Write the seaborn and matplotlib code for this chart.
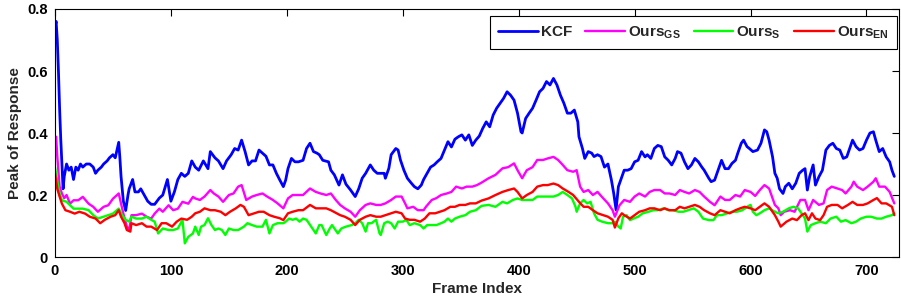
import matplotlib
matplotlib.use('Agg')
import matplotlib.pyplot as plt
import pandas as pd
import seaborn as sns

# values (frame, peak of response)
kcf_frames = [0, 1, 2, 3, 4, 5, 6, 7, 8, 10, 12, 14, 16, 18, 20, 22, 24, 27, 30, 33, 35, 37, 40, 42, 45, 47, 50, 52, 55, 56, 57, 59, 61, 63, 64, 67, 69, 72, 74, 77, 80, 83, 86, 90, 93, 97, 100, 103, 106, 109, 112, 115, 118, 121, 124, 128, 132, 134, 138, 141, 145, 148, 152, 155, 158, 161, 164, 167, 170, 173, 176, 179, 182, 185, 188, 191, 194, 197, 199, 201, 204, 207, 210, 214, 217, 220, 223, 226, 228, 231, 236, 238, 241, 245, 248, 251, 255, 259, 262, 265, 268, 272, 275, 278, 281, 284, 285, 288, 290, 294, 296, 298, 301, 304, 307, 310, 313, 316, 318, 321, 324, 327, 330, 333, 336, 339, 342, 345, 348, 351, 354, 357, 360, 363, 366, 369, 372, 375, 378, 381, 384, 387, 390, 393, 396, 399, 402, 403, 406, 409, 412, 415, 418, 421, 424, 427, 430, 433, 436, 439, 442, 445, 448, 451, 452, 455, 457, 460, 463, 465, 468, 471, 474, 477, 480, 482, 484, 486, 489, 491, 494, 497, 500, 503, 506, 509, 511, 514, 517, 520, 523, 526, 529, 532, 535, 537, 540, 543, 546, 549, 552, 555, 558, 560, 564, 566, 569, 572, 575, 578, 581, 584, 587, 589, 592, 594, 597, 599, 602, 606, 609, 612, 614, 616, 619, 621, 623, 625, 628, 630, 633, 636, 639, 642, 645, 647, 649, 651, 654, 656, 659, 662, 665, 668, 671, 674, 677, 680, 683, 686, 688, 691, 694, 697, 700, 703, 706, 708, 711, 714, 717, 720, 722, 724]
kcf_vals = [0.74, 0.76, 0.70, 0.60, 0.48, 0.38, 0.30, 0.22, 0.26, 0.30, 0.28, 0.29, 0.25, 0.29, 0.28, 0.30, 0.29, 0.30, 0.30, 0.29, 0.27, 0.28, 0.29, 0.30, 0.31, 0.32, 0.33, 0.32, 0.37, 0.32, 0.26, 0.18, 0.15, 0.20, 0.22, 0.25, 0.21, 0.21, 0.22, 0.20, 0.18, 0.17, 0.17, 0.19, 0.20, 0.25, 0.18, 0.21, 0.25, 0.27, 0.26, 0.27, 0.31, 0.29, 0.28, 0.31, 0.285, 0.34, 0.32, 0.31, 0.285, 0.31, 0.33, 0.35, 0.345, 0.377, 0.34, 0.297, 0.31, 0.31, 0.345, 0.335, 0.325, 0.297, 0.297, 0.27, 0.248, 0.227, 0.248, 0.285, 0.318, 0.307, 0.307, 0.312, 0.35, 0.367, 0.34, 0.335, 0.33, 0.312, 0.307, 0.28, 0.265, 0.232, 0.265, 0.235, 0.216, 0.195, 0.22, 0.254, 0.27, 0.297, 0.28, 0.27, 0.27, 0.27, 0.254, 0.286, 0.33, 0.35, 0.345, 0.313, 0.28, 0.254, 0.24, 0.227, 0.22, 0.232, 0.25, 0.27, 0.29, 0.297, 0.308, 0.318, 0.345, 0.372, 0.355, 0.38, 0.388, 0.394, 0.377, 0.394, 0.36, 0.377, 0.39, 0.415, 0.436, 0.42, 0.458, 0.48, 0.496, 0.512, 0.533, 0.522, 0.506, 0.464, 0.404, 0.40, 0.447, 0.464, 0.48, 0.506, 0.533, 0.544, 0.566, 0.555, 0.576, 0.555, 0.522, 0.496, 0.464, 0.464, 0.474, 0.436, 0.388, 0.35, 0.318, 0.34, 0.335, 0.324, 0.33, 0.324, 0.29, 0.30, 0.248, 0.205, 0.152, 0.227, 0.259, 0.28, 0.28, 0.285, 0.307, 0.312, 0.34, 0.323, 0.33, 0.318, 0.35, 0.36, 0.356, 0.323, 0.312, 0.297, 0.318, 0.34, 0.335, 0.307, 0.285, 0.297, 0.318, 0.307, 0.29, 0.28, 0.254, 0.243, 0.248, 0.28, 0.312, 0.285, 0.285, 0.302, 0.312, 0.335, 0.367, 0.377, 0.356, 0.35, 0.34, 0.345, 0.367, 0.41, 0.404, 0.377, 0.323, 0.27, 0.254, 0.22, 0.205, 0.227, 0.238, 0.22, 0.238, 0.27, 0.28, 0.285, 0.216, 0.259, 0.297, 0.232, 0.259, 0.28, 0.345, 0.36, 0.367, 0.35, 0.345, 0.318, 0.323, 0.356, 0.377, 0.356, 0.345, 0.35, 0.377, 0.40, 0.404, 0.377, 0.34, 0.35, 0.323, 0.307, 0.28, 0.26]

gs_frames = [0, 1, 2, 4, 6, 8, 10, 13, 16, 20, 24, 29, 33, 37, 42, 46, 50, 55, 57, 59, 62, 64, 66, 70, 75, 79, 83, 86, 90, 93, 98, 102, 106, 110, 115, 119, 121, 125, 129, 134, 137, 141, 145, 150, 154, 158, 161, 165, 170, 174, 179, 183, 188, 192, 197, 201, 205, 210, 214, 220, 225, 229, 234, 238, 242, 246, 250, 255, 259, 263, 268, 272, 277, 281, 285, 290, 294, 299, 302, 304, 309, 313, 318, 320, 325, 329, 333, 338, 342, 346, 351, 355, 360, 364, 368, 374, 380, 386, 391, 396, 399, 403, 407, 412, 416, 421, 425, 430, 434, 438, 442, 447, 450, 453, 456, 460, 464, 468, 473, 477, 481, 483, 487, 491, 496, 500, 504, 509, 513, 517, 522, 526, 530, 535, 539, 543, 547, 552, 556, 560, 565, 569, 574, 578, 582, 587, 591, 595, 600, 604, 608, 612, 616, 621, 624, 626, 629, 634, 638, 643, 647, 650, 654, 659, 663, 666, 670, 675, 679, 682, 687, 689, 692, 697, 701, 706, 708, 711, 716, 720, 724]
gs_vals = [0.38, 0.388, 0.324, 0.227, 0.205, 0.19, 0.20, 0.172, 0.183, 0.183, 0.194, 0.172, 0.162, 0.146, 0.162, 0.167, 0.188, 0.205, 0.172, 0.14, 0.098, 0.087, 0.135, 0.135, 0.14, 0.13, 0.124, 0.14, 0.156, 0.146, 0.167, 0.151, 0.156, 0.178, 0.172, 0.194, 0.189, 0.184, 0.195, 0.216, 0.205, 0.195, 0.178, 0.20, 0.205, 0.227, 0.232, 0.184, 0.195, 0.20, 0.205, 0.195, 0.184, 0.173, 0.157, 0.189, 0.20, 0.20, 0.20, 0.221, 0.21, 0.205, 0.20, 0.205, 0.185, 0.168, 0.157, 0.146, 0.13, 0.151, 0.168, 0.173, 0.168, 0.168, 0.173, 0.184, 0.195, 0.195, 0.173, 0.157, 0.162, 0.151, 0.151, 0.162, 0.184, 0.19, 0.20, 0.205, 0.21, 0.227, 0.221, 0.227, 0.227, 0.232, 0.24, 0.254, 0.265, 0.286, 0.29, 0.302, 0.28, 0.254, 0.28, 0.29, 0.313, 0.313, 0.318, 0.323, 0.313, 0.297, 0.28, 0.275, 0.28, 0.227, 0.21, 0.216, 0.20, 0.21, 0.189, 0.173, 0.151, 0.13, 0.167, 0.184, 0.178, 0.195, 0.205, 0.195, 0.21, 0.216, 0.216, 0.205, 0.205, 0.20, 0.216, 0.21, 0.205, 0.216, 0.21, 0.195, 0.178, 0.167, 0.195, 0.184, 0.184, 0.20, 0.195, 0.216, 0.21, 0.197, 0.216, 0.232, 0.221, 0.168, 0.157, 0.135, 0.146, 0.151, 0.146, 0.184, 0.184, 0.151, 0.184, 0.168, 0.173, 0.216, 0.227, 0.221, 0.216, 0.205, 0.227, 0.243, 0.227, 0.216, 0.227, 0.243, 0.254, 0.227, 0.227, 0.21, 0.173]

s_frames = [0, 2, 4, 6, 10, 13, 16, 20, 24, 29, 33, 37, 42, 46, 50, 55, 58, 61, 64, 66, 70, 75, 79, 83, 86, 89, 93, 98, 102, 106, 110, 112, 115, 119, 121, 124, 126, 129, 132, 135, 138, 141, 144, 147, 150, 154, 158, 163, 166, 170, 174, 179, 182, 185, 188, 192, 197, 199, 202, 205, 208, 211, 214, 217, 221, 225, 228, 230, 234, 237, 239, 244, 247, 251, 256, 259, 262, 265, 268, 270, 273, 277, 280, 281, 284, 287, 290, 293, 296, 300, 303, 306, 310, 315, 318, 321, 325, 329, 333, 336, 339, 342, 345, 349, 354, 358, 363, 368, 374, 380, 386, 390, 395, 399, 403, 407, 412, 416, 421, 425, 430, 434, 438, 442, 446, 449, 450, 453, 456, 459, 462, 465, 468, 472, 477, 481, 483, 486, 488, 490, 493, 496, 499, 503, 507, 512, 516, 520, 525, 529, 533, 538, 542, 546, 551, 555, 559, 564, 568, 571, 575, 580, 584, 588, 593, 597, 600, 602, 605, 608, 612, 616, 621, 624, 628, 633, 637, 641, 644, 647, 649, 652, 656, 660, 665, 669, 674, 678, 682, 687, 691, 695, 700, 704, 709, 713, 717, 722, 724]
s_vals = [0.29, 0.245, 0.205, 0.183, 0.178, 0.167, 0.156, 0.156, 0.156, 0.151, 0.135, 0.124, 0.13, 0.135, 0.14, 0.156, 0.135, 0.12, 0.114, 0.13, 0.124, 0.124, 0.13, 0.12, 0.114, 0.076, 0.092, 0.087, 0.087, 0.092, 0.12, 0.044, 0.065, 0.076, 0.098, 0.071, 0.098, 0.103, 0.125, 0.103, 0.087, 0.092, 0.087, 0.071, 0.092, 0.087, 0.087, 0.098, 0.109, 0.103, 0.098, 0.098, 0.12, 0.076, 0.103, 0.109, 0.109, 0.114, 0.124, 0.12, 0.124, 0.114, 0.124, 0.12, 0.098, 0.076, 0.103, 0.103, 0.071, 0.092, 0.103, 0.076, 0.092, 0.098, 0.103, 0.109, 0.12, 0.109, 0.082, 0.109, 0.109, 0.12, 0.076, 0.071, 0.109, 0.114, 0.109, 0.092, 0.114, 0.114, 0.12, 0.103, 0.109, 0.103, 0.092, 0.103, 0.103, 0.103, 0.109, 0.114, 0.124, 0.114, 0.124, 0.13, 0.135, 0.146, 0.151, 0.165, 0.168, 0.162, 0.178, 0.173, 0.184, 0.189, 0.184, 0.184, 0.184, 0.195, 0.195, 0.195, 0.195, 0.20, 0.21, 0.20, 0.189, 0.162, 0.146, 0.173, 0.184, 0.173, 0.178, 0.141, 0.12, 0.114, 0.109, 0.109, 0.114, 0.098, 0.092, 0.13, 0.135, 0.119, 0.124, 0.13, 0.141, 0.146, 0.151, 0.151, 0.157, 0.151, 0.151, 0.146, 0.146, 0.151, 0.157, 0.146, 0.124, 0.119, 0.119, 0.135, 0.135, 0.141, 0.146, 0.146, 0.151, 0.162, 0.168, 0.146, 0.135, 0.141, 0.151, 0.157, 0.146, 0.141, 0.146, 0.157, 0.162, 0.157, 0.141, 0.124, 0.082, 0.103, 0.109, 0.114, 0.109, 0.124, 0.13, 0.114, 0.119, 0.109, 0.114, 0.124, 0.13, 0.13, 0.124, 0.124, 0.13, 0.135, 0.141]

en_frames = [0, 2, 4, 6, 9, 13, 17, 21, 26, 30, 35, 39, 43, 48, 52, 55, 57, 60, 62, 65, 66, 70, 75, 79, 83, 88, 92, 96, 101, 105, 109, 114, 118, 121, 125, 129, 134, 138, 143, 147, 151, 156, 160, 163, 167, 172, 176, 180, 185, 189, 194, 197, 201, 205, 210, 214, 220, 225, 229, 234, 238, 242, 246, 250, 255, 259, 263, 268, 272, 277, 281, 285, 290, 294, 299, 302, 306, 310, 315, 319, 323, 328, 332, 336, 341, 345, 349, 354, 358, 363, 368, 374, 380, 386, 391, 396, 399, 403, 407, 412, 416, 421, 425, 430, 434, 438, 443, 447, 452, 456, 460, 464, 468, 473, 477, 481, 483, 486, 489, 491, 496, 500, 504, 509, 513, 517, 522, 526, 530, 535, 539, 543, 547, 552, 556, 560, 565, 569, 574, 578, 582, 587, 591, 595, 600, 604, 608, 612, 616, 621, 624, 626, 631, 636, 640, 644, 647, 650, 653, 656, 660, 663, 666, 670, 675, 679, 684, 688, 692, 697, 701, 706, 709, 713, 717, 722, 724]
en_vals = [0.27, 0.22, 0.195, 0.172, 0.151, 0.146, 0.14, 0.146, 0.14, 0.13, 0.124, 0.109, 0.12, 0.13, 0.135, 0.151, 0.13, 0.109, 0.087, 0.082, 0.109, 0.103, 0.109, 0.098, 0.098, 0.087, 0.109, 0.109, 0.098, 0.114, 0.124, 0.12, 0.13, 0.141, 0.146, 0.157, 0.151, 0.151, 0.146, 0.135, 0.146, 0.157, 0.168, 0.162, 0.135, 0.141, 0.146, 0.146, 0.135, 0.13, 0.125, 0.119, 0.141, 0.146, 0.151, 0.151, 0.168, 0.157, 0.157, 0.157, 0.151, 0.143, 0.135, 0.13, 0.12, 0.103, 0.12, 0.13, 0.135, 0.13, 0.13, 0.135, 0.141, 0.146, 0.141, 0.124, 0.12, 0.12, 0.114, 0.124, 0.141, 0.141, 0.146, 0.151, 0.162, 0.162, 0.168, 0.168, 0.173, 0.173, 0.182, 0.189, 0.20, 0.21, 0.216, 0.221, 0.21, 0.189, 0.20, 0.21, 0.227, 0.232, 0.232, 0.237, 0.232, 0.221, 0.21, 0.20, 0.178, 0.162, 0.162, 0.151, 0.141, 0.135, 0.13, 0.12, 0.095, 0.125, 0.141, 0.135, 0.124, 0.135, 0.146, 0.151, 0.157, 0.157, 0.151, 0.157, 0.151, 0.151, 0.162, 0.157, 0.162, 0.168, 0.162, 0.151, 0.141, 0.135, 0.151, 0.146, 0.141, 0.151, 0.157, 0.162, 0.157, 0.151, 0.162, 0.173, 0.162, 0.135, 0.114, 0.098, 0.114, 0.124, 0.119, 0.135, 0.141, 0.119, 0.141, 0.124, 0.119, 0.135, 0.162, 0.168, 0.168, 0.157, 0.168, 0.178, 0.168, 0.168, 0.173, 0.184, 0.19, 0.173, 0.173, 0.162, 0.135]

labels = ['KCF', r'Ours$_\mathrm{GS}$', r'Ours$_\mathrm{S}$', r'Ours$_\mathrm{EN}$']
colors = ['#0000ff', '#ff00ff', '#00ff00', '#ff0000']
x_ticks = [0, 100, 200, 300, 400, 500, 600, 700]
y_ticks = [0, 0.2, 0.4, 0.6, 0.8]
y_tick_labels = ['0', '0.2', '0.4', '0.6', '0.8']

sns.set_style('white')
plt.rcParams['font.family'] = ['Liberation Sans', 'DejaVu Sans']
plt.rcParams['font.weight'] = 'bold'
plt.rcParams['mathtext.fontset'] = 'custom'
plt.rcParams['mathtext.rm'] = 'Liberation Sans:bold'
plt.rcParams['mathtext.it'] = 'Liberation Sans:bold'

frames = [kcf_frames, gs_frames, s_frames, en_frames]
values = [kcf_vals, gs_vals, s_vals, en_vals]
widths = [2.0, 1.7, 1.7, 1.7]

fig = plt.figure(figsize=(9.01, 3.0), dpi=100)
ax = fig.add_axes([0.061, 0.1433, 0.9367, 0.8267])
for f, v, lab, c, w in zip(frames, values, labels, colors, widths):
    d = pd.DataFrame({'frame': f, 'peak': v})
    sns.lineplot(data=d, x='frame', y='peak', color=c, linewidth=w,
                 estimator=None, sort=False, label=lab, ax=ax)

ax.set_xlim(0, 728)
ax.set_ylim(0, 0.8)
ax.set_xticks(x_ticks)
ax.set_yticks(y_ticks)
ax.set_yticklabels(y_tick_labels)
ax.tick_params(direction='in', length=5, width=0.8, top=True, right=True,
               labelsize=10.5, colors='black', pad=5)
for sp in ax.spines.values():
    sp.set_color('black')
    sp.set_linewidth(0.8)
ax.set_xlabel('Frame Index', fontsize=11, fontweight='bold', labelpad=3)
ax.set_ylabel('Peak of Response', fontsize=11, fontweight='bold', labelpad=4)

leg = ax.legend(loc='upper right', bbox_to_anchor=(0.9976, 0.972), ncol=4,
                prop={'size': 11, 'weight': 'bold'}, frameon=True,
                fancybox=False, edgecolor='black', framealpha=1,
                borderaxespad=0, handlelength=2.6, handletextpad=0.2,
                columnspacing=0.85, borderpad=0.55)
leg.get_frame().set_linewidth(0.8)

fig.savefig('out.png', dpi=100)
